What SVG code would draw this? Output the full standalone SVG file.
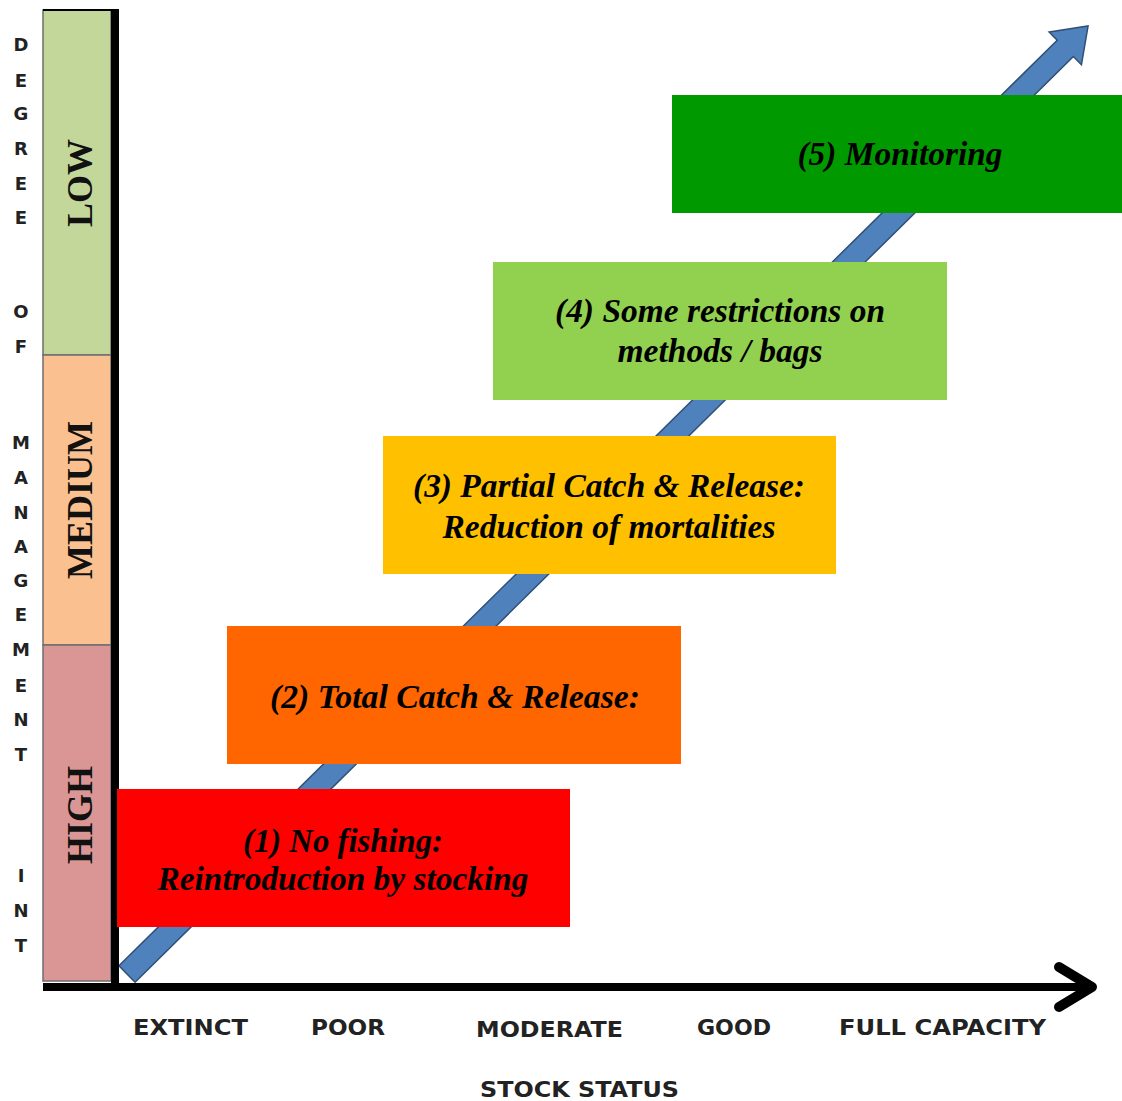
<svg xmlns="http://www.w3.org/2000/svg" width="1122" height="1101" viewBox="0 0 1122 1101">
<style>
.box text{font-family:"Liberation Serif","Times New Roman",serif;font-weight:bold;font-style:italic;font-size:33px;fill:#000;text-anchor:middle}
.bar{stroke:#6e6e6e;stroke-width:1.5}
.barlbl{font-family:"Liberation Serif","Times New Roman",serif;font-weight:bold;font-size:36px;fill:#111;text-anchor:middle}
.vl{font-family:"DejaVu Sans","Liberation Sans",sans-serif;font-weight:bold;font-size:18px;fill:#222;text-anchor:middle}
.xl{font-family:"DejaVu Sans","Liberation Sans",sans-serif;font-weight:bold;font-size:21px;fill:#222}
</style>
<rect width="1122" height="1101" fill="#fff"/>

<!-- vertical title letters -->
<g id="y-title">
<text class="vl" x="21" y="51">D</text>
<text class="vl" x="21" y="87">E</text>
<text class="vl" x="21" y="120">G</text>
<text class="vl" x="21" y="155">R</text>
<text class="vl" x="21" y="190">E</text>
<text class="vl" x="21" y="224">E</text>
<text class="vl" x="21" y="318">O</text>
<text class="vl" x="21" y="353">F</text>
<text class="vl" x="21" y="449">M</text>
<text class="vl" x="21" y="484">A</text>
<text class="vl" x="21" y="519">N</text>
<text class="vl" x="21" y="553">A</text>
<text class="vl" x="21" y="587">G</text>
<text class="vl" x="21" y="621">E</text>
<text class="vl" x="21" y="656">M</text>
<text class="vl" x="21" y="692">E</text>
<text class="vl" x="21" y="726">N</text>
<text class="vl" x="21" y="761">T</text>
<text class="vl" x="21" y="882">I</text>
<text class="vl" x="21" y="917">N</text>
<text class="vl" x="21" y="952">T</text>
</g>

<!-- degree bars -->
<g id="bar-low">
<rect class="bar" x="43" y="10" width="68" height="345" fill="#C4D79B"/>
<text class="barlbl" transform="translate(92,183) rotate(-90)">LOW</text>
</g>
<g id="bar-medium">
<rect class="bar" x="43" y="355" width="68" height="290" fill="#FAC090"/>
<text class="barlbl" transform="translate(92,500) rotate(-90)">MEDIUM</text>
</g>
<g id="bar-high">
<rect class="bar" x="43" y="645" width="68" height="336" fill="#DA9694"/>
<text class="barlbl" transform="translate(92,815) rotate(-90)">HIGH</text>
</g>

<!-- connectors: progression arrow and axes -->
<g id="connectors">
<polygon transform="translate(127,974) rotate(-44.61)" points="0,-11.5 1318,-11.5 1318,-23 1350,0 1318,23 1318,11.5 0,11.5" fill="#4F81BD" stroke="#2F4F75" stroke-width="1.5" stroke-linejoin="miter"/>
<line x1="43" y1="10" x2="119" y2="10" stroke="#000" stroke-width="2"/>
<rect x="111" y="9" width="8" height="982" fill="#000"/>
<rect x="43" y="983" width="1046" height="8" fill="#000"/>
<polyline points="1059,967 1092,987 1059,1007" fill="none" stroke="#000" stroke-width="10" stroke-linecap="round" stroke-linejoin="round"/>
</g>

<!-- boxes -->
<g id="box1" class="box">
<rect x="117" y="789" width="453" height="138" fill="#FF0000"/>
<text x="343" y="852" textLength="200" lengthAdjust="spacingAndGlyphs">(1) No fishing:</text>
<text x="343" y="890" textLength="371" lengthAdjust="spacingAndGlyphs">Reintroduction by stocking</text>
</g>
<g id="box2" class="box">
<rect x="227" y="626" width="454" height="138" fill="#FF6600"/>
<text x="455" y="708" textLength="370" lengthAdjust="spacingAndGlyphs">(2) Total Catch &amp; Release:</text>
</g>
<g id="box3" class="box">
<rect x="383" y="436" width="453" height="138" fill="#FFC000"/>
<text x="609" y="497" textLength="392" lengthAdjust="spacingAndGlyphs">(3) Partial Catch &amp; Release:</text>
<text x="609" y="538" textLength="333" lengthAdjust="spacingAndGlyphs">Reduction of mortalities</text>
</g>
<g id="box4" class="box">
<rect x="493" y="262" width="454" height="138" fill="#92D050"/>
<text x="720" y="322" textLength="330" lengthAdjust="spacingAndGlyphs">(4) Some restrictions on</text>
<text x="720" y="362" textLength="205" lengthAdjust="spacingAndGlyphs">methods / bags</text>
</g>
<g id="box5" class="box">
<rect x="672" y="95" width="450" height="118" fill="#009900"/>
<text x="900" y="165" textLength="205" lengthAdjust="spacingAndGlyphs">(5) Monitoring</text>
</g>

<!-- x axis labels -->
<g id="x-labels">
<text class="xl" x="133" y="1035" textLength="115" lengthAdjust="spacingAndGlyphs">EXTINCT</text>
<text class="xl" x="311" y="1035" textLength="74" lengthAdjust="spacingAndGlyphs">POOR</text>
<text class="xl" x="476" y="1037" textLength="147" lengthAdjust="spacingAndGlyphs">MODERATE</text>
<text class="xl" x="697" y="1035" textLength="74" lengthAdjust="spacingAndGlyphs">GOOD</text>
<text class="xl" x="839" y="1035" textLength="207" lengthAdjust="spacingAndGlyphs">FULL CAPACITY</text>
<text class="xl" x="480" y="1097" textLength="199" lengthAdjust="spacingAndGlyphs">STOCK STATUS</text>
</g>
</svg>
